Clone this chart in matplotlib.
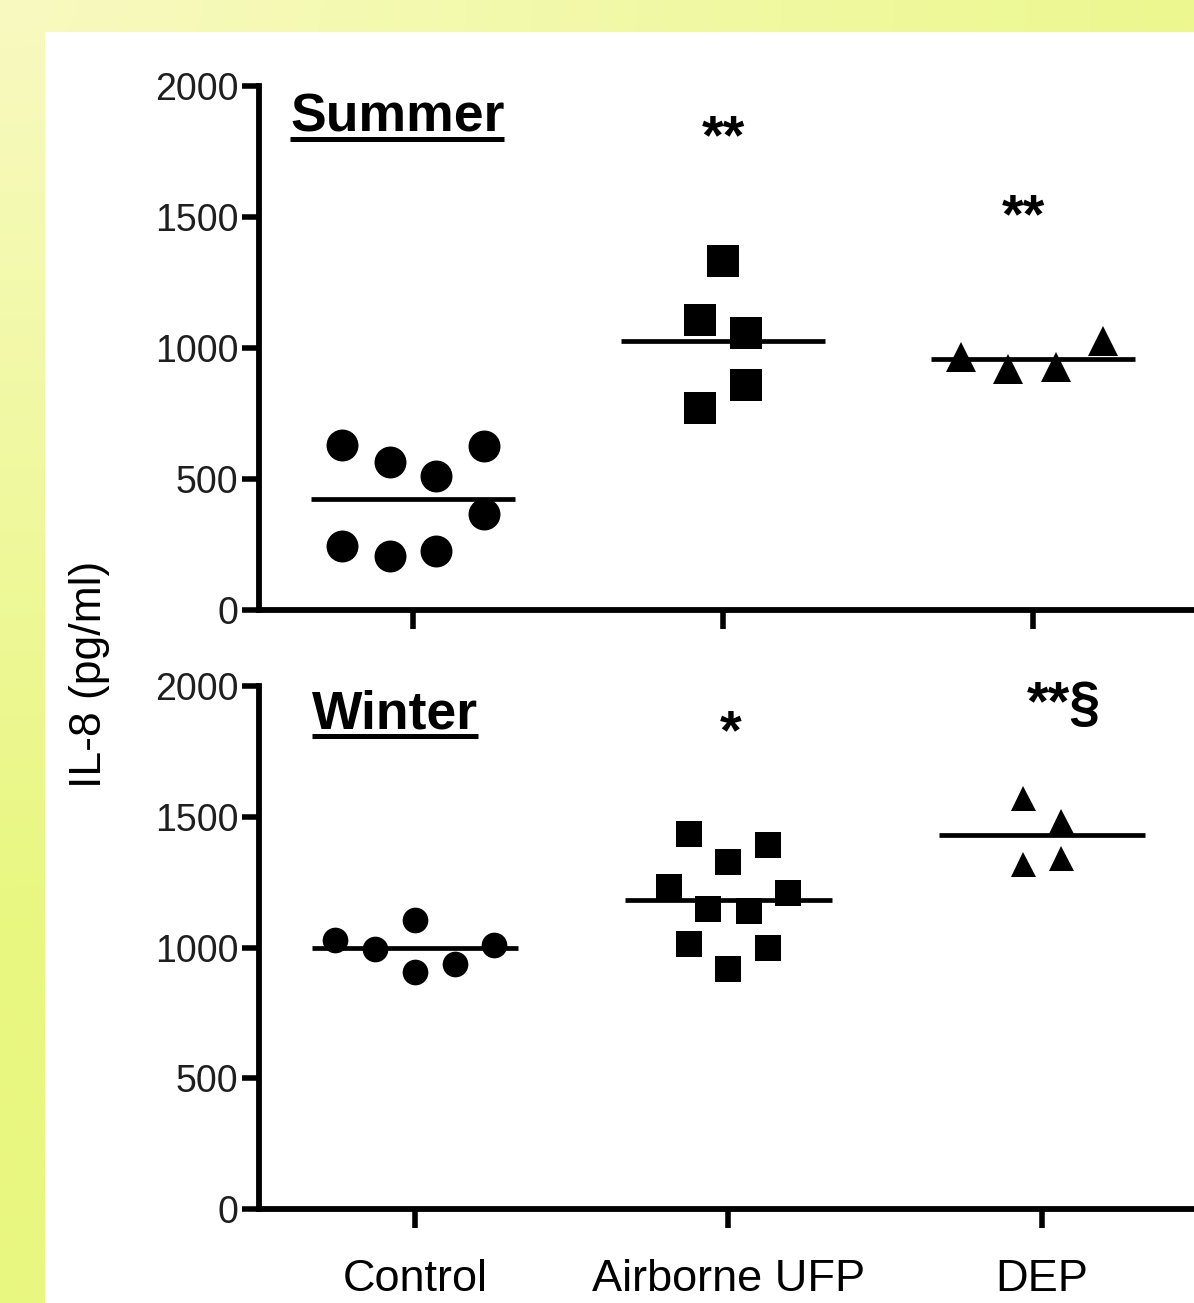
import numpy as np
import matplotlib
matplotlib.use("Agg")
import matplotlib.pyplot as plt
from matplotlib.patches import Rectangle
from matplotlib.lines import Line2D

plt.rcParams['font.family'] = ['Liberation Sans', 'DejaVu Sans']

groups = ["Control", "Airborne UFP", "DEP"]

# Summer: (x offset from group centre, IL-8 value)
summer_ctrl_x = [-0.228, -0.075, 0.075, 0.228, 0.228, -0.228, -0.075, 0.075]
summer_ctrl_y = [631, 566, 512, 627, 367, 245, 207, 226]
summer_ufp_x = [0.0, -0.075, 0.075, 0.075, -0.075]
summer_ufp_y = [1331, 1105, 1059, 860, 772]
summer_dep_x = [-0.232, -0.081, 0.074, 0.226]
summer_dep_y = [964, 918, 929, 1025]

# Winter
winter_ctrl_x = [-0.255, -0.128, 0.0, 0.0, 0.128, 0.252]
winter_ctrl_y = [1027, 996, 1107, 905, 935, 1008]
winter_ufp_x = [-0.127, 0.127, 0.0, -0.19, 0.19, -0.064, 0.064, -0.127, 0.127, 0.0]
winter_ufp_y = [1435, 1393, 1328, 1233, 1210, 1149, 1141, 1015, 1000, 916]
winter_dep_x = [-0.062, 0.062, -0.062, 0.062]
winter_dep_y = [1573, 1485, 1321, 1344]

summer_marks = ["**", "**", None]
winter_marks = ["*", "**§", None]

W, H = 1194, 1303
fig = plt.figure(figsize=(W / 100, H / 100), dpi=100)

# yellow background with a soft gradient, white panel on top
bg = fig.add_axes([0, 0, 1, 1])
gx, gy = np.meshgrid(np.linspace(0, 1, 120), np.linspace(0, 1, 130))
t = np.clip(np.sqrt((0.6 * gx) ** 2 + (1.1 * gy) ** 2) / 0.8, 0, 1)
light = np.array([248, 250, 192]) / 255
dark = np.array([232, 247, 127]) / 255
img = light[None, None, :] * (1 - t[..., None]) + dark[None, None, :] * t[..., None]
bg.imshow(img, extent=[0, 1, 0, 1], aspect='auto', origin='upper', interpolation='bilinear')
bg.add_patch(Rectangle((45 / W, 0), 1 - 45 / W, 1 - 32 / H, transform=bg.transAxes,
                       facecolor='white', edgecolor='none'))
bg.set_xlim(0, 1)
bg.set_ylim(0, 1)
bg.axis('off')

ax_top = fig.add_axes([259 / W, 1 - 610 / H, 1 - 259 / W, 524 / H])
ax_bot = fig.add_axes([259 / W, 1 - 1209 / H, 1 - 259 / W, 523 / H])


def draw_panel(ax, data, sizes, marks, mark_y, title, title_pos, xlim, show_labels):
    ax.set_facecolor('none')
    for i, (xs, ys) in enumerate(data):
        xs = np.array(xs) + i
        ax.plot(xs, ys, ls='none', marker=['o', 's', '^'][i], ms=sizes[i],
                color='black', mew=0, clip_on=False, zorder=3)
        m = np.mean(ys)
        ax.hlines(m, i - 0.33, i + 0.33, color='black', lw=3.4, zorder=2)
    for i, (mk, my) in enumerate(zip(marks, mark_y)):
        if mk:
            ax.text(my[0], my[1], mk, ha='center', va='baseline',
                    fontsize=40, fontweight='bold')
    tt = ax.text(title_pos[0], title_pos[1], title, ha='left', va='baseline',
                 fontsize=38.5, fontweight='bold')
    ax.set_xlim(*xlim)
    ax.set_ylim(0, 2000)
    ax.set_yticks([0, 500, 1000, 1500, 2000])
    ax.set_xticks([0, 1, 2])
    if show_labels:
        ax.set_xticklabels(groups, fontsize=32.5)
    else:
        ax.set_xticklabels([])
    for s in ['top', 'right']:
        ax.spines[s].set_visible(False)
    for s in ['left', 'bottom']:
        ax.spines[s].set_linewidth(4.2)
        ax.spines[s].set_capstyle('projecting')
    ax.tick_params(axis='y', length=12, width=4, labelsize=27, pad=3,
                   labelcolor='#1e1e1e')
    ax.tick_params(axis='x', length=14, width=4, pad=22)
    return tt


t1 = draw_panel(ax_top,
                [(summer_ctrl_x, summer_ctrl_y), (summer_ufp_x, summer_ufp_y),
                 (summer_dep_x, summer_dep_y)],
                [23, 22.5, 21.5], summer_marks, [(1.0, 1745), (1.968, 1440), None],
                "Summer", (-0.397, 1828), (-0.497, 2.519), False)
t2 = draw_panel(ax_bot,
                [(winter_ctrl_x, winter_ctrl_y), (winter_ufp_x, winter_ufp_y),
                 (winter_dep_x, winter_dep_y)],
                [18.5, 19, 18], winter_marks, [(1.008, 1760), (2.07, 1870), None],
                "Winter", (-0.329, 1836), (-0.4976, 2.485), True)

fig.text(90 / W, 1 - 674 / H, "IL-8 (pg/ml)", rotation=90, ha='center', va='center',
         fontsize=32)

# underline the season titles
fig.canvas.draw()
for tt in (t1, t2):
    bb = tt.get_window_extent()
    base = tt.get_transform().transform(tt.get_position())[1]
    y = (base - 7.5) / H
    fig.add_artist(Line2D([bb.x0 / W, bb.x1 / W], [y, y], transform=fig.transFigure,
                          color='black', lw=3.6, solid_capstyle='butt'))

fig.savefig("out.png", dpi=100)
